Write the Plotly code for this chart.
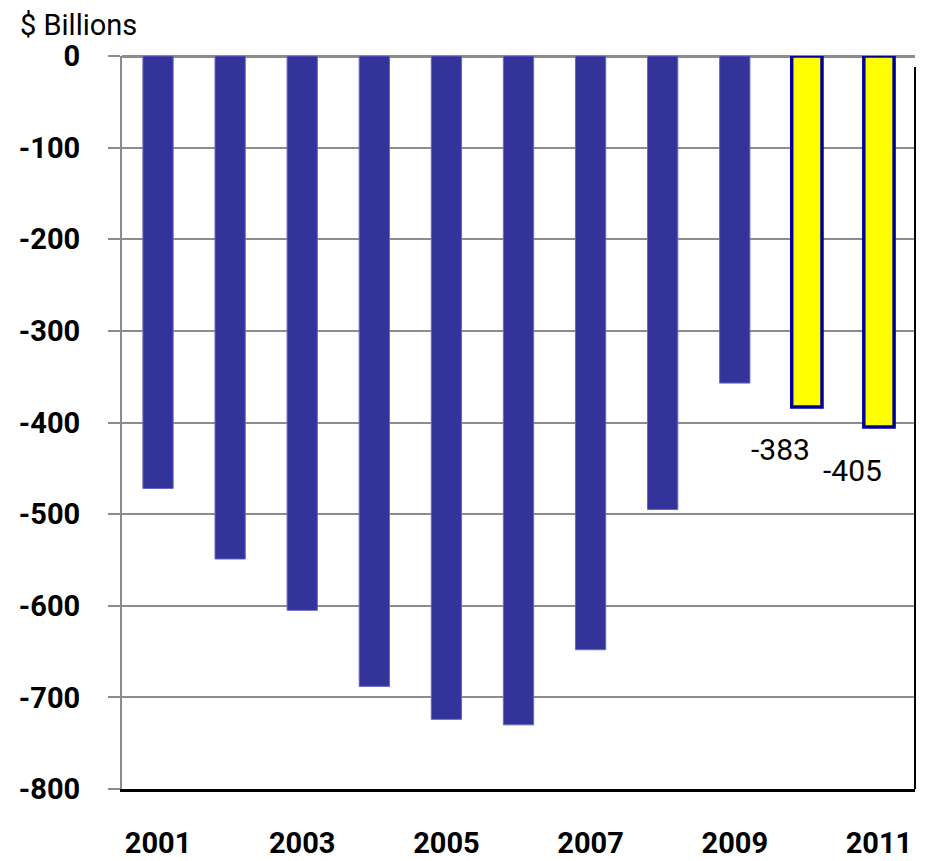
import plotly.graph_objects as go

# Federal budget balance, $ billions (2010-2011 projected)
years = [2001, 2002, 2003, 2004, 2005, 2006, 2007, 2008, 2009, 2010, 2011]
balance = [-472, -549, -605, -688, -724, -730, -648, -495, -357, -383, -405]
projected = [False] * 9 + [True, True]

y_ticks = [0, -100, -200, -300, -400, -500, -600, -700, -800]
y_labels = ["0", "-100", "-200", "-300", "-400", "-500", "-600", "-700", "-800"]
x_ticks = [2001, 2003, 2005, 2007, 2009, 2011]
x_labels = ["2001", "2003", "2005", "2007", "2009", "2011"]

FONT = "Roboto, Liberation Sans, sans-serif"

fill = ["#ffff00" if p else "#333399" for p in projected]
edge = ["#000099" if p else "#6666cc" for p in projected]
edge_w = [3.5 if p else 1 for p in projected]

fig = go.Figure()
fig.add_trace(go.Bar(
    x=years, y=balance, width=0.42,
    marker=dict(color=fill, line=dict(color=edge, width=edge_w)),
    hoverinfo="x+y",
))

# labels under the projected bars
for yr, val, p in zip(years, balance, projected):
    if p:
        fig.add_annotation(x=yr, y=val, text=str(val), showarrow=False,
                           xshift=-26, yshift=-43,
                           font=dict(family=FONT, size=30, color="black"))

fig.add_annotation(x=0, y=1, xref="paper", yref="paper", xanchor="left", yanchor="bottom",
                   xshift=-104, yshift=12, text="$ Billions", showarrow=False,
                   font=dict(family=FONT, size=29, color="black"))

# right frame line
fig.add_shape(type="line", xref="paper", yref="paper", x0=1, x1=1, y0=0, y1=0.985,
              line=dict(color="black", width=2))

# page body has an 8px margin, so the figure is sized to fit inside it
fig.update_layout(
    width=917, height=853,
    margin=dict(l=114, r=10, t=48, b=72),
    plot_bgcolor="white", paper_bgcolor="white",
    showlegend=False,
    font=dict(family=FONT, color="black"),
    xaxis=dict(
        range=[2000.5, 2011.5], tickvals=x_ticks, ticktext=x_labels,
        showgrid=False, zeroline=False, automargin=False,
        showline=True, linecolor="black", linewidth=2.5,
        ticks="", ticklabelstandoff=26,
        tickfont=dict(family=FONT, size=29, weight="bold"),
    ),
    xaxis2=dict(
        overlaying="x", side="top", anchor="y", automargin=False,
        range=[2000.5, 2011.5],
        tickvals=[y + 0.5 for y in years[:-1]],
        ticks="inside", ticklen=10, tickwidth=2, tickcolor="#8c8c8c",
        showticklabels=False, showgrid=False, zeroline=False, showline=False,
    ),
    yaxis=dict(
        range=[-800, 0], tickvals=y_ticks, ticktext=y_labels,
        showgrid=True, gridcolor="#8c8c8c", gridwidth=2,
        zeroline=True, zerolinecolor="#8c8c8c", zerolinewidth=2.5,
        showline=True, linecolor="#8c8c8c", linewidth=2, automargin=False,
        ticks="outside", ticklen=12, tickwidth=2, tickcolor="#8c8c8c",
        ticklabelstandoff=22,
        tickfont=dict(family=FONT, size=29, weight="bold"),
    ),
)

fig.write_html("out.html")
